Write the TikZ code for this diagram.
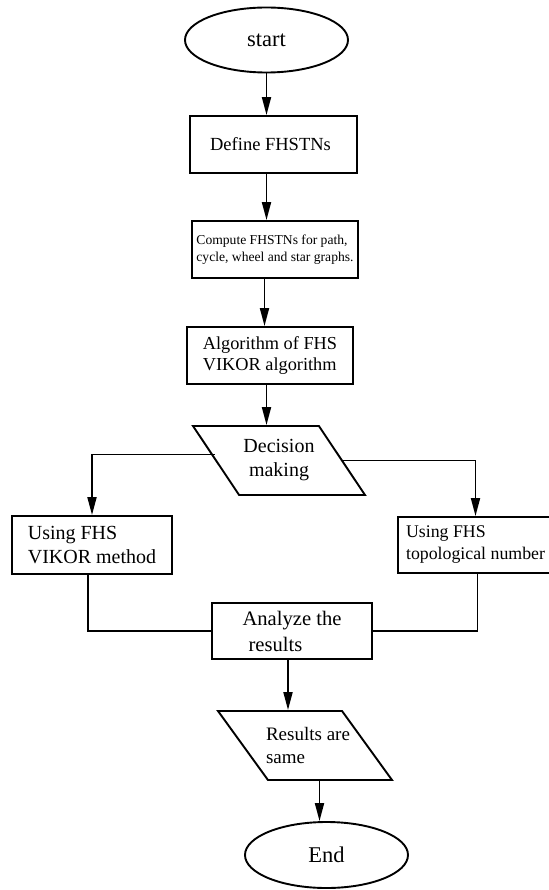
\documentclass[tikz,border=0pt]{standalone}
\usepackage{fontspec}
\setmainfont{Liberation Serif}
\usetikzlibrary{shapes.geometric,arrows.meta}

\tikzset{
  box/.style={draw, line width=1.9pt, rectangle, align=left, inner sep=0pt},
  term/.style={draw, line width=1.9pt, ellipse, inner sep=0pt},
  slanted/.style={draw, line width=1.9pt, trapezium, trapezium stretches=true, inner sep=2pt},
  arr/.style={line width=1.9pt, -{Triangle[length=18pt,width=9pt]}},
  link/.style={line width=1.9pt},
}
\newcommand{\fs}[1]{\fontsize{#1}{#1}\selectfont}

\begin{document}
\begin{tikzpicture}[x=1pt, y=-1pt]
  \useasboundingbox (0,0) rectangle (548,890);

  % Start / end
  \node[term, minimum width=163pt, minimum height=65pt, font=\fs{22.5}] (start) at (266.5,40) {start};
  \node[term, minimum width=163pt, minimum height=66pt, font=\fs{22.5}] (end) at (326.5,855) {End};

  % Steps
  \node[box, minimum width=167pt, minimum height=57pt, font=\fs{18.5}] (define) at (273.5,144.5) {Define FHSTNs\hspace{6pt}};
  \node[box, minimum width=166pt, minimum height=57pt, font=\fontsize{13.6}{17}\selectfont] (compute) at (275,249.5)
    {Compute FHSTNs for path,\\cycle, wheel and star graphs.};
  \node[box, minimum width=166pt, minimum height=57pt, font=\fontsize{18.3}{21}\selectfont] (algo) at (270,355.5)
    {Algorithm of FHS\\VIKOR algorithm};

  % Decision
  \node[slanted, trapezium left angle=120, trapezium right angle=60,
        minimum width=172pt, minimum height=69pt] (dec) at (279,460.5) {};
  \node[align=center, font=\fontsize{20}{24}\selectfont] (dectext) at (dec.center) {Decision\\making};

  % Branches
  \node[box, minimum width=160pt, minimum height=58pt, font=\fontsize{20}{24}\selectfont] (vikor) at (92,545)
    {Using FHS\\VIKOR method};
  \node[box, minimum width=155pt, minimum height=56pt, font=\fontsize{17.8}{22}\selectfont] (topo) at (475.5,545)
    {Using FHS\\topological number};

  \node[box, minimum width=160pt, minimum height=56pt, font=\fontsize{20.6}{26}\selectfont] (analyze) at (292,631)
    {Analyze the\\\hspace{6pt}results};

  % Result
  \node[slanted, trapezium left angle=124, trapezium right angle=56,
        minimum width=174pt, minimum height=69pt] (res) at (305,745.5) {};
  \node[align=left, font=\fontsize{19}{23}\selectfont] (restext) at ([xshift=3pt]res.center) {Results are\\same};

  % Connectors
  \draw[arr] (start.south) -- (start.south |- define.north);
  \draw[arr] (define.south -| start.south) -- (compute.north -| start.south);
  \draw[arr] ([xshift=-2pt]compute.south -| start.south) -- ([xshift=-2pt]algo.north -| start.south);
  \draw[arr] (algo.south -| start.south) -- (dec.north -| start.south);
  \draw[arr] ([yshift=6pt]dec.west) -| (vikor.north);
  \draw[arr] (dec.east) -| (topo.north);
  \draw[link] ([xshift=-4pt]vikor.south) |- (analyze.west);
  \draw[link] ([xshift=2pt]topo.south) |- (analyze.east);
  \draw[arr] ([xshift=-4pt]analyze.south) -- ([xshift=-4pt]analyze.south |- res.north);
  \draw[arr] ([xshift=-7pt]end.north |- res.south) -- ([xshift=-7pt]end.north);
\end{tikzpicture}
\end{document}
